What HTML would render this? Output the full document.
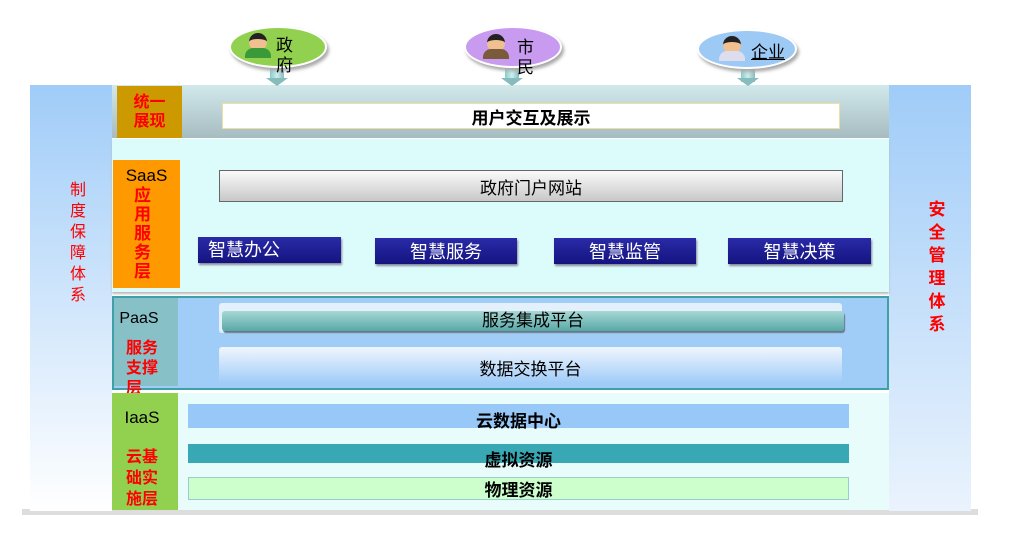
<!DOCTYPE html>
<html><head><meta charset="utf-8"><style>
*{margin:0;padding:0;box-sizing:border-box}
body{width:1013px;height:538px;background:#fff;position:relative;overflow:hidden;font-family:"Liberation Sans","Noto Sans CJK SC",sans-serif}
.a{position:absolute}
.c{display:flex;align-items:center;justify-content:center}
.red{color:#f00;font-weight:bold}
.btn{background:linear-gradient(#2a2aa8,#141480);color:#fff;font-size:18px;box-shadow:1px 2px 2px #889}
.ell{border-radius:50%;box-shadow:2px 3px 3px #aaa;border:2px solid #fff}
.arr{width:14px;height:16px;background:linear-gradient(90deg,#8cc,#cee,#8bb)}
.arh{width:0;height:0;border-left:11px solid transparent;border-right:11px solid transparent;border-top:8px solid #8bb}
.head{width:18px;height:18px;border-radius:50%;background:#f0c090;border-top:6px solid #222}
</style></head><body>
<div class="a" style="left:22px;top:509px;width:956px;height:6px;background:#ddd"></div>
<div class="a" style="left:30px;top:85px;width:82px;height:426px;background:linear-gradient(#a0ccf8,#fff)"></div>
<div class="a" style="left:66px;top:180px;width:24px;color:#f00;font-size:16px;line-height:21px;text-align:center">制<br>度<br>保<br>障<br>体<br>系</div>
<div class="a" style="left:889px;top:85px;width:82px;height:426px;background:linear-gradient(#a0ccf8,#eaf3fd)"></div>
<div class="a red" style="left:925px;top:198px;width:24px;font-size:17px;line-height:23px;text-align:center">安<br>全<br>管<br>理<br>体<br>系</div>

<div class="a" style="left:112px;top:85px;width:777px;height:53px;background:linear-gradient(#d2e9ec,#a6bcc0)"></div>
<div class="a red c" style="left:117px;top:86px;width:65px;height:52px;background:#cc9900;font-size:16px;line-height:19px;text-align:center">统一<br>展现</div>
<div class="a c" style="left:222px;top:103px;width:618px;height:26px;background:#fff;border:1px solid #eee0a0;font-weight:bold;font-size:17px">用户交互及展示</div>

<div class="a" style="left:112px;top:139px;width:777px;height:153px;background:#dcfcfc;box-shadow:0 2px 2px #bbb"></div>
<div class="a" style="left:113px;top:160px;width:67px;height:128px;background:#ff9900"></div>
<div class="a" style="left:113px;top:166px;width:67px;text-align:center;font-size:17px">SaaS</div>
<div class="a red" style="left:134px;top:186px;width:20px;font-size:17px;line-height:19px">应<br>用<br>服<br>务<br>层</div>
<div class="a c" style="left:219px;top:170px;width:624px;height:32px;background:linear-gradient(#fafafa,#c8c8c8);border:1px solid #666;font-size:17px">政府门户网站</div>
<div class="a btn" style="left:198px;top:237px;width:143px;height:26px;padding-left:10px;line-height:26px">智慧办公</div>
<div class="a btn c" style="left:375px;top:238px;width:142px;height:26px">智慧服务</div>
<div class="a btn c" style="left:554px;top:238px;width:142px;height:26px">智慧监管</div>
<div class="a btn c" style="left:728px;top:238px;width:143px;height:26px">智慧决策</div>

<div class="a" style="left:112px;top:296px;width:777px;height:94px;background:#a0ccf8;border:2px solid #40a0a8"></div>
<div class="a" style="left:114px;top:298px;width:64px;height:88px;background:#88c0c8"></div>
<div class="a" style="left:114px;top:310px;width:50px;text-align:center;font-size:16px">PaaS</div>
<div class="a red" style="left:126px;top:339px;width:40px;font-size:16px;line-height:20px">服务<br>支撑<br>层</div>
<div class="a" style="left:219px;top:303px;width:623px;height:30px;background:#e4f0fc;border-radius:3px"></div>
<div class="a c" style="left:222px;top:311px;width:622px;height:20px;background:linear-gradient(#a8d8d4,#58a8a8);box-shadow:1px 2px 1px #678;border-radius:3px;font-size:17px;padding-bottom:6px">服务集成平台</div>
<div class="a c" style="left:219px;top:347px;width:623px;height:36px;background:linear-gradient(#f0f6fe,#a0ccf8);border-radius:3px;font-size:17px;padding-top:4px">数据交换平台</div>

<div class="a" style="left:112px;top:393px;width:777px;height:117px;background:#e8fcfc"></div>
<div class="a" style="left:112px;top:393px;width:66px;height:117px;background:#92d050"></div>
<div class="a" style="left:112px;top:408px;width:60px;text-align:center;font-size:17px">IaaS</div>
<div class="a red" style="left:126px;top:447px;width:40px;font-size:16px;line-height:21px">云基<br>础实<br>施层</div>
<div class="a c" style="left:188px;top:404px;width:661px;height:24px;background:#98c8f8;font-weight:bold;font-size:17px;padding-top:6px">云数据中心</div>
<div class="a c" style="left:188px;top:444px;width:661px;height:19px;background:#38a8b4;font-weight:bold;font-size:17px;padding-top:10px">虚拟资源</div>
<div class="a c" style="left:188px;top:477px;width:661px;height:23px;background:#ccffcc;border:1px solid #9cc;font-weight:bold;font-size:17px">物理资源</div>

<div class="a arr" style="left:270px;top:64px"></div><div class="a arh" style="left:266px;top:78px"></div>
<div class="a arr" style="left:505px;top:64px"></div><div class="a arh" style="left:501px;top:78px"></div>
<div class="a arr" style="left:741px;top:66px"></div><div class="a arh" style="left:737px;top:78px"></div>

<div class="a ell" style="left:229px;top:26px;width:98px;height:42px;background:#92d050"></div>
<div class="a ell" style="left:464px;top:26px;width:98px;height:42px;background:#c89af0"></div>
<div class="a ell" style="left:697px;top:29px;width:100px;height:40px;background:#9ccaf4"></div>

<div class="a head" style="left:249px;top:33px"></div><div class="a" style="left:245px;top:48px;width:26px;height:10px;background:#3a9a3a;border-radius:8px 8px 0 0"></div>
<div class="a head" style="left:487px;top:34px"></div><div class="a" style="left:483px;top:49px;width:26px;height:10px;background:#7a5a3a;border-radius:8px 8px 0 0"></div>
<div class="a head" style="left:723px;top:36px"></div><div class="a" style="left:719px;top:51px;width:26px;height:10px;background:#dde;border-radius:8px 8px 0 0"></div>

<div class="a" style="left:276px;top:36px;font-size:17px;line-height:20px">政<br>府</div>
<div class="a" style="left:517px;top:38px;font-size:17px;line-height:20px">市<br>民</div>
<div class="a" style="left:751px;top:38px;font-size:17px;text-decoration:underline">企业</div>
</body></html>
